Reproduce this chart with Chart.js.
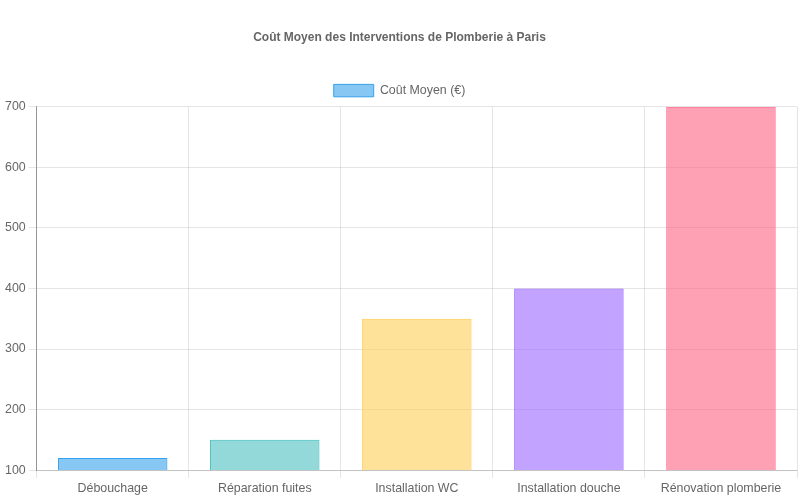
<!DOCTYPE html>
<html>
<head>
<meta charset="utf-8">
<script src="https://cdn.jsdelivr.net/npm/chart.js@4"></script>
<style>
  html, body { margin: 0; padding: 0; background: #fff; }
  #wrap { width: 800px; height: 500px; }
</style>
</head>
<body>
<div id="wrap"><canvas id="myChart"></canvas></div>
<script>
const categories = ['Débouchage', 'Réparation fuites', 'Installation WC', 'Installation douche', 'Rénovation plomberie'];
const couts = [120, 150, 350, 400, 700];
const fillColors = [
    'rgba(54, 162, 235, 0.6)',
    'rgba(75, 192, 192, 0.6)',
    'rgba(255, 206, 86, 0.6)',
    'rgba(153, 102, 255, 0.6)',
    'rgba(255, 99, 132, 0.6)'
];
const lineColors = [
    'rgba(54, 162, 235, 1)',
    'rgba(75, 192, 192, 1)',
    'rgba(255, 206, 86, 1)',
    'rgba(153, 102, 255, 1)',
    'rgba(255, 99, 132, 1)'
];

Chart.defaults.font.family = "'Liberation Sans', Arial, sans-serif";
Chart.defaults.font.size = 12.4;
Chart.defaults.color = '#666';

const ctx = document.getElementById('myChart').getContext('2d');
const myChart = new Chart(ctx, {
type: 'bar',
data: {
labels: categories,
datasets: [{
    label: 'Coût Moyen (€)',
    data: couts,
    backgroundColor: fillColors,
    borderColor: lineColors,
    borderWidth: 1
}]
},
options: {
responsive: true,
maintainAspectRatio: false,
animation: false,
layout: {
    padding: { left: 2, right: 3, top: 0, bottom: 1 }
},
plugins: {
    title: {
        display: true,
        text: 'Coût Moyen des Interventions de Plomberie à Paris',
        font: { size: 12, weight: 'bold' },
        padding: { top: 30, bottom: 30 }
    }
},
scales: {
    x: {
        border: { color: 'rgba(0, 0, 0, 0.15)' }
    },
    y: {
        min: 100,
        max: 700,
        ticks: { stepSize: 100 },
        border: { color: 'rgba(0, 0, 0, 0.35)' }
    }
}
}
});
</script>
</body>
</html>
